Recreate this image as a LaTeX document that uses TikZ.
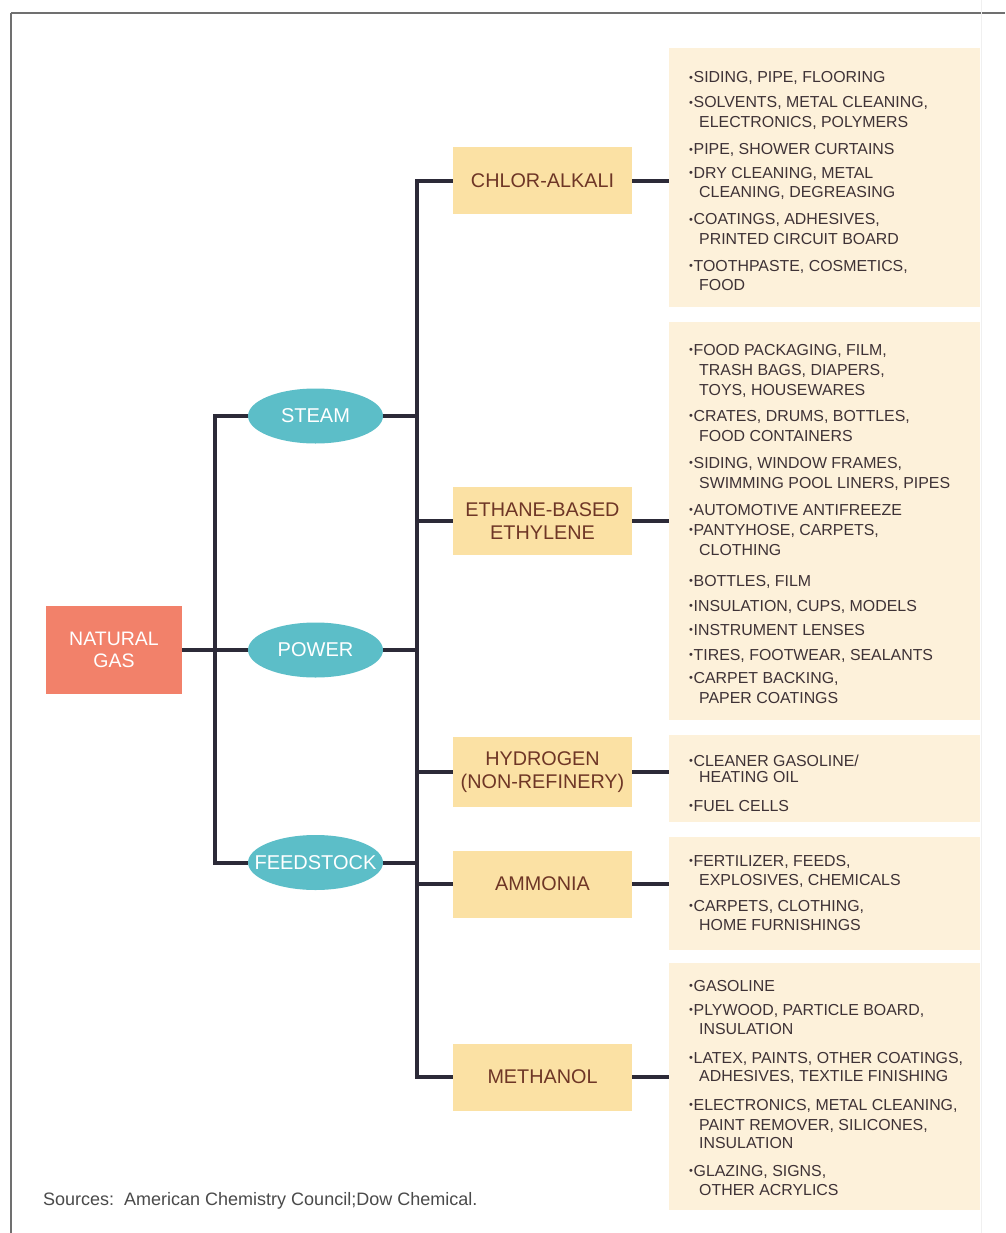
\documentclass[tikz,border=0pt]{standalone}
\usepackage{fontspec}
\setmainfont{Liberation Sans}
\usetikzlibrary{shapes.geometric}
\definecolor{ngfill}{HTML}{F2816A}
\definecolor{elfill}{HTML}{5CBEC8}
\definecolor{midfill}{HTML}{FBE1A4}
\definecolor{itemfill}{HTML}{FDF1DA}
\definecolor{linec}{HTML}{2C2A38}
\definecolor{midtext}{HTML}{6E3626}
\definecolor{itemtext}{HTML}{3E3236}
\definecolor{framec}{HTML}{707070}
\definecolor{srctext}{HTML}{4A4A4A}
\newcommand{\bul}{\raisebox{1.8pt}{\fontsize{11}{11}\selectfont •}\kern0.6pt}
\begin{document}
\begin{tikzpicture}[x=1pt,y=-1pt,
 conn/.style={line width=4pt, draw=linec},
 ngbox/.style={fill=ngfill, minimum width=136pt, minimum height=88pt, inner sep=0, text=white, align=center, font=\fontsize{19.5}{22.5}\selectfont},
 ellnode/.style={ellipse, fill=elfill, minimum width=135pt, minimum height=55pt, inner sep=0},
 elltext/.style={text=white, font=\fontsize{20}{24}\selectfont, inner sep=0},
 midbox/.style={fill=midfill, minimum width=179pt, minimum height=67pt, inner sep=0, text=midtext, align=center, font=\fontsize{19.8}{23.5}\selectfont},
 itembox/.style={fill=itemfill, inner sep=0, minimum width=311pt},
 itemline/.style={anchor=base west, inner sep=0, text=itemtext, font=\fontsize{15.9}{19}\selectfont},
]
\fill[white] (0,0) rectangle (1005,1233);
\useasboundingbox (0,0) rectangle (1005,1233);
% frame
\draw[framec, line width=1.6pt] (11,13) -- (1005,13);
\draw[framec, line width=1.6pt] (11,13) -- (11,1233);
\draw[black!6, line width=1pt] (981.5,0) -- (981.5,1233);

% item boxes
\node[itembox, minimum height=259pt] (ib1) at (824.5,177.5) {};
\node[itembox, minimum height=398pt] (ib2) at (824.5,521) {};
\node[itembox, minimum height=87pt] (ib3) at (824.5,778.5) {};
\node[itembox, minimum height=113pt] (ib4) at (824.5,893.5) {};
\node[itembox, minimum height=247pt] (ib5) at (824.5,1086.5) {};

% main nodes
\node[ngbox] (ng) at (114,650) {NATURAL\\GAS};
\node[ellnode] (steam) at (315.5,416) {};
\node[ellnode] (power) at (315.5,650) {};
\node[ellnode] (feed) at (315.5,862.5) {};
\node[elltext] (steamt) at (steam.center) {STEAM};
\node[elltext] (powert) at (power.center) {POWER};
\node[elltext] (feedt) at (feed.center) {FEEDSTOCK};
\node[midbox] (chlor) at (542.5,181) {CHLOR-ALKALI};
\node[midbox, minimum height=68pt] (eth) at (542.5,521) {ETHANE-BASED\\ETHYLENE};
\node[midbox, minimum height=70pt] (hyd) at (542.5,772) {HYDROGEN\\(NON-REFINERY)};
\node[midbox] (amm) at (542.5,884) {AMMONIA};
\node[midbox] (meth) at (542.5,1077) {METHANOL};

% connectors
\coordinate (busL) at (215,0);
\coordinate (busR) at (416.5,0);
\draw[conn] (steam.west) -- (steam.west -| busL) -- (feed.west -| busL) -- (feed.west);
\draw[conn] (ng.east) -- (power.west);
\draw[conn] (chlor.west) -- (chlor.west -| busR) -- (meth.west -| busR) -- (meth.west);
\draw[conn] (steam.east) -- (steam.east -| busR);
\draw[conn] (power.east) -- (power.east -| busR);
\draw[conn] (feed.east) -- (feed.east -| busR);
\draw[conn] (eth.west) -- (eth.west -| busR);
\draw[conn] (hyd.west) -- (hyd.west -| busR);
\draw[conn] (amm.west) -- (amm.west -| busR);
\draw[conn] (chlor.east) -- (chlor.east -| ib1.west);
\draw[conn] (eth.east) -- (eth.east -| ib2.west);
\draw[conn] (hyd.east) -- (hyd.east -| ib3.west);
\draw[conn] (amm.east) -- (amm.east -| ib4.west);
\draw[conn] (meth.east) -- (meth.east -| ib5.west);

% item texts box 1
\node[itemline] (a1) at (689,83) {\bul SIDING, PIPE, FLOORING};
\node[itemline] (a2) at (689,108) {\bul SOLVENTS, METAL CLEANING,};
\node[itemline] (a3) at (699,127.3) {ELECTRONICS, POLYMERS};
\node[itemline] (a4) at (689,155) {\bul PIPE, SHOWER CURTAINS};
\node[itemline] (a5) at (689,178.3) {\bul DRY CLEANING, METAL};
\node[itemline] (a6) at (699,197.3) {CLEANING, DEGREASING};
\node[itemline] (a7) at (689,225) {\bul COATINGS, ADHESIVES,};
\node[itemline] (a8) at (699,244) {PRINTED CIRCUIT BOARD};
\node[itemline] (a9) at (689,271.7) {\bul TOOTHPASTE, COSMETICS,};
\node[itemline] (a10) at (699,290.7) {FOOD};
% box 2
\node[itemline] (b1) at (689,355.7) {\bul FOOD PACKAGING, FILM,};
\node[itemline] (b2) at (699,375) {TRASH BAGS, DIAPERS,};
\node[itemline] (b3) at (699,395) {TOYS, HOUSEWARES};
\node[itemline] (b4) at (689,421.7) {\bul CRATES, DRUMS, BOTTLES,};
\node[itemline] (b5) at (699,441) {FOOD CONTAINERS};
\node[itemline] (b6) at (689,468.3) {\bul SIDING, WINDOW FRAMES,};
\node[itemline] (b7) at (699,488.3) {SWIMMING POOL LINERS, PIPES};
\node[itemline] (b8) at (689,515) {\bul AUTOMOTIVE ANTIFREEZE};
\node[itemline] (b9) at (689,535) {\bul PANTYHOSE, CARPETS,};
\node[itemline] (b10) at (699,555) {CLOTHING};
\node[itemline] (b11) at (689,586.7) {\bul BOTTLES, FILM};
\node[itemline] (b12) at (689,611.7) {\bul INSULATION, CUPS, MODELS};
\node[itemline] (b13) at (689,635) {\bul INSTRUMENT LENSES};
\node[itemline] (b14) at (689,660) {\bul TIRES, FOOTWEAR, SEALANTS};
\node[itemline] (b15) at (689,683.3) {\bul CARPET BACKING,};
\node[itemline] (b16) at (699,703.3) {PAPER COATINGS};
% box 3
\node[itemline] (c1) at (689,766.7) {\bul CLEANER GASOLINE/};
\node[itemline] (c2) at (699,782.7) {HEATING OIL};
\node[itemline] (c3) at (689,811.7) {\bul FUEL CELLS};
% box 4
\node[itemline] (d1) at (689,866.7) {\bul FERTILIZER, FEEDS,};
\node[itemline] (d2) at (699,885) {EXPLOSIVES, CHEMICALS};
\node[itemline] (d3) at (689,911.7) {\bul CARPETS, CLOTHING,};
\node[itemline] (d4) at (699,930) {HOME FURNISHINGS};
% box 5
\node[itemline] (e1) at (689,991.7) {\bul GASOLINE};
\node[itemline] (e2) at (689,1015) {\bul PLYWOOD, PARTICLE BOARD,};
\node[itemline] (e3) at (699,1034) {INSULATION};
\node[itemline] (e4) at (689,1063.3) {\bul LATEX, PAINTS, OTHER COATINGS,};
\node[itemline] (e5) at (699,1081.7) {ADHESIVES, TEXTILE FINISHING};
\node[itemline] (e6) at (689,1110) {\bul ELECTRONICS, METAL CLEANING,};
\node[itemline] (e7) at (699,1130) {PAINT REMOVER, SILICONES,};
\node[itemline] (e8) at (699,1148.3) {INSULATION};
\node[itemline] (e9) at (689,1176.7) {\bul GLAZING, SIGNS,};
\node[itemline] (e10) at (699,1195) {OTHER ACRYLICS};

% sources
\node[anchor=base west, inner sep=0, text=srctext, font=\fontsize{18}{20}\selectfont] (src) at (43,1205) {Sources:\ \ American Chemistry Council;Dow Chemical.};
\end{tikzpicture}
\end{document}
